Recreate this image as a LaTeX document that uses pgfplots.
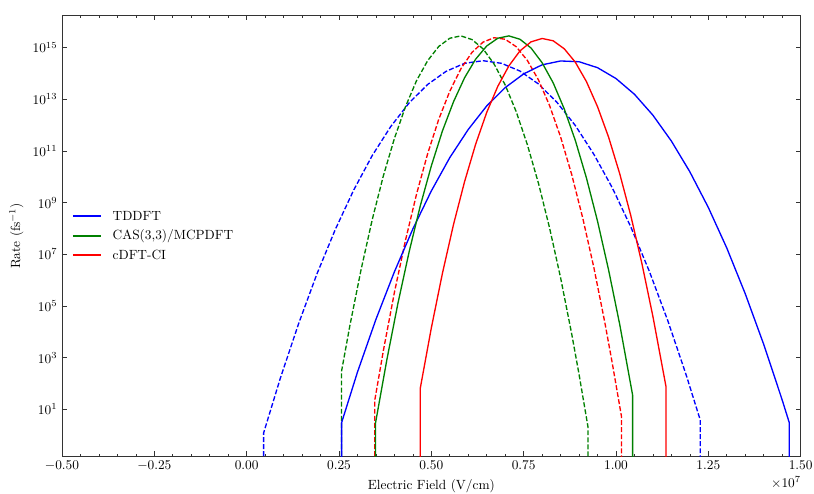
\documentclass[border=0pt]{standalone}
\usepackage{pgfplots}
\pgfplotsset{compat=1.18}

\definecolor{cblue}{rgb}{0,0,1}
\definecolor{cgreen}{rgb}{0,0.5,0}
\definecolor{cred}{rgb}{1,0,0}

\pgfplotsset{
  dashedline/.style={dash pattern=on 3.7pt off 1.6pt},
}

\begin{document}
\begin{tikzpicture}
\begin{axis}[
  scale only axis,
  width=554pt, height=330.2pt,
  xmin=-0.5, xmax=1.5,
  ymode=log, ymin=0.156, ymax=1.70e16,
  xtick={-0.5,-0.25,0,0.25,0.5,0.75,1.0,1.25,1.5},
  minor x tick num=4,
  ytick={1e1,1e3,1e5,1e7,1e9,1e11,1e13,1e15},
  minor ytick={},
  xticklabel style={/pgf/number format/.cd, fixed, fixed zerofill, precision=2},
  tick align=inside,
  major tick length=3.5pt, minor tick length=1.8pt,
  axis line style={black!80, line width=0.6pt},
  tick style={black!80, line width=0.5pt},
  xlabel={Electric Field (V/cm)},
  ylabel={Rate (fs$^{-1}$)},
]

% TDDFT, dashed
\addplot[cblue, line width=1pt, dashedline] coordinates {
 (0.046,1e-3) (0.046,1.23) (0.09,1.41e2) (0.14,1.95e4) (0.19,1.70e6)
 (0.24,9.12e7) (0.29,3.09e9) (0.34,6.61e10) (0.39,8.71e11) (0.44,7.24e12)
 (0.49,3.72e13) (0.54,1.20e14) (0.59,2.45e14) (0.64,3.09e14) (0.69,2.45e14)
 (0.74,1.23e14) (0.79,3.89e13) (0.84,7.59e12) (0.89,9.55e11) (0.94,7.41e10)
 (0.99,3.72e9) (1.04,1.15e8) (1.09,2.24e6) (1.14,2.75e4) (1.19,2.14e2)
 (1.228,3.89) (1.228,1e-3)
};
% CAS(3,3)/MCPDFT, dashed
\addplot[cgreen, line width=1pt, dashedline] coordinates {
 (0.2566,1e-3) (0.2566,2.82e2) (0.28,1.91e4) (0.31,2.63e6) (0.34,2.19e8)
 (0.37,1.07e10) (0.40,3.02e11) (0.43,5.13e12) (0.46,5.25e13) (0.49,3.09e14)
 (0.52,1.10e15) (0.55,2.29e15) (0.58,2.82e15) (0.61,2.04e15) (0.64,8.91e14)
 (0.67,2.29e14) (0.70,3.55e13) (0.73,3.24e12) (0.76,1.74e11) (0.79,5.62e9)
 (0.82,1.07e8) (0.85,1.23e6) (0.88,8.32e3) (0.90,2.24e2) (0.924,2.14)
 (0.924,1e-3)
};
% cDFT-CI, dashed
\addplot[cred, line width=1pt, dashedline] coordinates {
 (0.347,1e-3) (0.347,2.29e1) (0.37,1.82e3) (0.40,3.31e5) (0.43,3.47e7)
 (0.46,2.14e9) (0.49,7.76e10) (0.52,1.66e12) (0.55,2.04e13) (0.58,1.51e14)
 (0.61,6.46e14) (0.64,1.62e15) (0.67,2.40e15) (0.70,2.09e15) (0.73,1.07e15)
 (0.76,3.16e14) (0.79,5.62e13) (0.82,5.75e12) (0.85,3.47e11) (0.88,1.23e10)
 (0.91,2.51e8) (0.94,3.09e6) (0.97,2.19e4) (0.99,6.03e2) (1.015,5.13)
 (1.015,1e-3)
};

% TDDFT, solid
\addplot[cblue, line width=1pt] coordinates {
 (0.257,1e-3) (0.257,3.02) (0.30,2.75e2) (0.35,3.02e4) (0.40,2.09e6)
 (0.45,9.55e7) (0.50,2.82e9) (0.55,5.50e10) (0.60,6.76e11) (0.65,5.50e12)
 (0.70,2.82e13) (0.75,9.55e13) (0.80,2.14e14) (0.85,3.02e14) (0.90,2.82e14)
 (0.95,1.66e14) (1.00,6.31e13) (1.05,1.55e13) (1.10,2.40e12) (1.15,2.40e11)
 (1.20,1.55e10) (1.25,6.46e8) (1.30,1.74e7) (1.35,2.95e5) (1.40,3.24e3)
 (1.45,2.29e1) (1.469,3.09) (1.469,1e-3)
};
% CAS(3,3)/MCPDFT, solid
\addplot[cgreen, line width=1pt] coordinates {
 (0.349,1e-3) (0.349,3.02) (0.38,8.91e2) (0.41,1.35e5) (0.44,1.26e7)
 (0.47,7.41e8) (0.50,2.63e10) (0.53,5.89e11) (0.56,7.94e12) (0.59,6.76e13)
 (0.62,3.55e14) (0.65,1.15e15) (0.68,2.29e15) (0.71,2.82e15) (0.74,2.09e15)
 (0.77,9.55e14) (0.80,2.57e14) (0.83,4.27e13) (0.86,4.17e12) (0.89,2.51e11)
 (0.92,8.91e9) (0.95,1.91e8) (0.98,2.45e6) (1.01,1.95e4) (1.045,3.55e1)
 (1.045,1e-3)
};
% cDFT-CI, solid
\addplot[cred, line width=1pt] coordinates {
 (0.470,1e-3) (0.470,6.46e1) (0.50,1.41e4) (0.53,1.82e6) (0.56,1.41e8)
 (0.59,6.46e9) (0.62,1.82e11) (0.65,3.09e12) (0.68,3.16e13) (0.71,1.95e14)
 (0.74,7.41e14) (0.77,1.66e15) (0.80,2.24e15) (0.83,1.82e15) (0.86,8.91e14)
 (0.89,2.69e14) (0.92,4.79e13) (0.95,5.13e12) (0.98,3.39e11) (1.01,1.32e10)
 (1.04,3.16e8) (1.07,4.47e6) (1.10,3.89e4) (1.1355,7.41e1) (1.1355,1e-3)
};

\coordinate (keyorigin) at (rel axis cs:0,0.5);
\end{axis}

% key for the three methods, centred on the left edge
\draw[cblue, line width=1pt] ([xshift=8.25pt,yshift=15pt]keyorigin)
  -- ++(21pt,0pt) node[anchor=west, text=black, inner sep=0pt, xshift=8.25pt] {TDDFT};
\draw[cgreen, line width=1pt] ([xshift=8.25pt,yshift=0pt]keyorigin)
  -- ++(21pt,0pt) node[anchor=west, text=black, inner sep=0pt, xshift=8.25pt] {CAS(3,3)/MCPDFT};
\draw[cred, line width=1pt] ([xshift=8.25pt,yshift=-14.25pt]keyorigin)
  -- ++(21pt,0pt) node[anchor=west, text=black, inner sep=0pt, xshift=8.25pt] {cDFT-CI};

\node at ([xshift=-11pt,yshift=-20pt]current axis.south east) {$\times10^{7}$};
\pgfresetboundingbox
\path[use as bounding box]
  ([xshift=-46.5pt,yshift=-27.75pt]current axis.south west)
  rectangle ([xshift=10pt,yshift=11.8pt]current axis.north east);
\end{tikzpicture}
\end{document}
